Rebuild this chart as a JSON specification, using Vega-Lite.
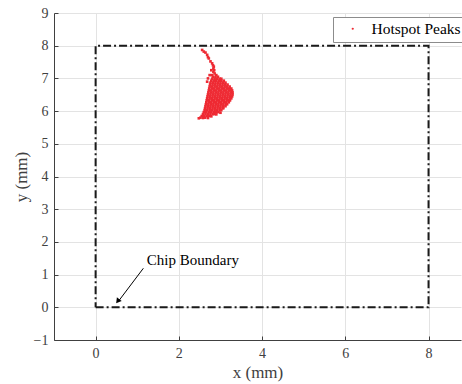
{
  "$schema": "https://vega.github.io/schema/vega-lite/v6.json",
  "width": 407,
  "height": 327,
  "autosize": "none",
  "padding": {"left": 54, "top": 13, "right": 1, "bottom": 44},
  "config": {
    "view": {"stroke": null},
    "font": "Liberation Serif",
    "axis": {
      "gridColor": "#e3e3e3",
      "gridWidth": 1,
      "domainColor": "#404040",
      "tickColor": "#404040",
      "labelColor": "#404040",
      "titleColor": "#404040",
      "labelFont": "Liberation Serif",
      "titleFont": "Liberation Serif",
      "labelFontSize": 14,
      "titleFontSize": 17,
      "titleFontWeight": "normal",
      "tickSize": -4,
      "labelPadding": 10
    }
  },
  "encoding": {
    "x": {
      "field": "x", "type": "quantitative",
      "scale": {"domain": [-1, 8.78], "nice": false, "zero": false},
      "axis": {"values": [0, 2, 4, 6, 8], "title": "x (mm)", "grid": true, "titlePadding": 4}
    },
    "y": {
      "field": "y", "type": "quantitative",
      "scale": {"domain": [-1, 9], "nice": false, "zero": false},
      "axis": {"values": [-1, 0, 1, 2, 3, 4, 5, 6, 7, 8, 9], "title": "y (mm)", "grid": true, "titlePadding": 3}
    }
  },
  "layer": [
    {
      "data": {"values": [
        {"x": 0, "y": 0, "o": 0}, {"x": 8, "y": 0, "o": 1}, {"x": 8, "y": 8, "o": 2},
        {"x": 0, "y": 8, "o": 3}, {"x": 0, "y": 0, "o": 4}
      ]},
      "mark": {"type": "line", "color": "#1a1a1a", "strokeWidth": 2, "strokeDash": [8, 3, 2, 3]},
      "encoding": {"order": {"field": "o", "type": "quantitative"}}
    },
    {
      "data": {"values": [
        {"x":2.56,"y":7.87},{"x":2.6,"y":7.82},{"x":2.64,"y":7.79},{"x":2.68,"y":7.72},{"x":2.7,"y":7.65},{"x":2.72,"y":7.61},{"x":2.76,"y":7.52},{"x":2.8,"y":7.46},{"x":2.82,"y":7.4},{"x":2.84,"y":7.36},{"x":2.83,"y":7.3},{"x":2.85,"y":7.25},{"x":2.83,"y":7.2},{"x":2.86,"y":7.15},{"x":2.8,"y":7.1},{"x":2.9,"y":7.1},{"x":2.78,"y":7.25},
        {"x":2.82,"y":7.05},{"x":2.88,"y":7.05},{"x":2.94,"y":7.05},
        {"x":2.8,"y":6.99},{"x":2.86,"y":6.99},{"x":2.92,"y":6.99},{"x":2.98,"y":6.99},{"x":3.02,"y":6.99},
        {"x":2.78,"y":6.93},{"x":2.84,"y":6.93},{"x":2.9,"y":6.93},{"x":2.96,"y":6.93},{"x":3.02,"y":6.93},{"x":3.08,"y":6.93},
        {"x":2.76,"y":6.87},{"x":2.82,"y":6.87},{"x":2.88,"y":6.87},{"x":2.94,"y":6.87},{"x":3.0,"y":6.87},{"x":3.06,"y":6.87},{"x":3.12,"y":6.87},
        {"x":2.75,"y":6.81},{"x":2.81,"y":6.81},{"x":2.87,"y":6.81},{"x":2.93,"y":6.81},{"x":2.99,"y":6.81},{"x":3.05,"y":6.81},{"x":3.11,"y":6.81},{"x":3.17,"y":6.81},
        {"x":2.74,"y":6.75},{"x":2.8,"y":6.75},{"x":2.86,"y":6.75},{"x":2.92,"y":6.75},{"x":2.98,"y":6.75},{"x":3.04,"y":6.75},{"x":3.1,"y":6.75},{"x":3.16,"y":6.75},{"x":3.22,"y":6.75},
        {"x":2.73,"y":6.69},{"x":2.79,"y":6.69},{"x":2.85,"y":6.69},{"x":2.91,"y":6.69},{"x":2.97,"y":6.69},{"x":3.03,"y":6.69},{"x":3.09,"y":6.69},{"x":3.15,"y":6.69},{"x":3.21,"y":6.69},{"x":3.26,"y":6.69},
        {"x":2.72,"y":6.63},{"x":2.78,"y":6.63},{"x":2.84,"y":6.63},{"x":2.9,"y":6.63},{"x":2.96,"y":6.63},{"x":3.02,"y":6.63},{"x":3.08,"y":6.63},{"x":3.14,"y":6.63},{"x":3.2,"y":6.63},{"x":3.26,"y":6.63},{"x":3.28,"y":6.63},
        {"x":2.71,"y":6.57},{"x":2.77,"y":6.57},{"x":2.83,"y":6.57},{"x":2.89,"y":6.57},{"x":2.95,"y":6.57},{"x":3.01,"y":6.57},{"x":3.07,"y":6.57},{"x":3.13,"y":6.57},{"x":3.19,"y":6.57},{"x":3.25,"y":6.57},{"x":3.29,"y":6.57},
        {"x":2.7,"y":6.51},{"x":2.76,"y":6.51},{"x":2.82,"y":6.51},{"x":2.88,"y":6.51},{"x":2.94,"y":6.51},{"x":3.0,"y":6.51},{"x":3.06,"y":6.51},{"x":3.12,"y":6.51},{"x":3.18,"y":6.51},{"x":3.24,"y":6.51},{"x":3.29,"y":6.51},
        {"x":2.69,"y":6.45},{"x":2.75,"y":6.45},{"x":2.81,"y":6.45},{"x":2.87,"y":6.45},{"x":2.93,"y":6.45},{"x":2.99,"y":6.45},{"x":3.05,"y":6.45},{"x":3.11,"y":6.45},{"x":3.17,"y":6.45},{"x":3.23,"y":6.45},{"x":3.28,"y":6.45},
        {"x":2.68,"y":6.39},{"x":2.74,"y":6.39},{"x":2.8,"y":6.39},{"x":2.86,"y":6.39},{"x":2.92,"y":6.39},{"x":2.98,"y":6.39},{"x":3.04,"y":6.39},{"x":3.1,"y":6.39},{"x":3.16,"y":6.39},{"x":3.22,"y":6.39},{"x":3.26,"y":6.39},
        {"x":2.67,"y":6.33},{"x":2.73,"y":6.33},{"x":2.79,"y":6.33},{"x":2.85,"y":6.33},{"x":2.91,"y":6.33},{"x":2.97,"y":6.33},{"x":3.03,"y":6.33},{"x":3.09,"y":6.33},{"x":3.15,"y":6.33},{"x":3.21,"y":6.33},{"x":3.23,"y":6.33},
        {"x":2.66,"y":6.27},{"x":2.72,"y":6.27},{"x":2.78,"y":6.27},{"x":2.84,"y":6.27},{"x":2.9,"y":6.27},{"x":2.96,"y":6.27},{"x":3.02,"y":6.27},{"x":3.08,"y":6.27},{"x":3.14,"y":6.27},{"x":3.2,"y":6.27},
        {"x":2.65,"y":6.21},{"x":2.71,"y":6.21},{"x":2.77,"y":6.21},{"x":2.83,"y":6.21},{"x":2.89,"y":6.21},{"x":2.95,"y":6.21},{"x":3.01,"y":6.21},{"x":3.07,"y":6.21},{"x":3.13,"y":6.21},{"x":3.16,"y":6.21},
        {"x":2.64,"y":6.15},{"x":2.7,"y":6.15},{"x":2.76,"y":6.15},{"x":2.82,"y":6.15},{"x":2.88,"y":6.15},{"x":2.94,"y":6.15},{"x":3.0,"y":6.15},{"x":3.06,"y":6.15},{"x":3.12,"y":6.15},
        {"x":2.63,"y":6.09},{"x":2.69,"y":6.09},{"x":2.75,"y":6.09},{"x":2.81,"y":6.09},{"x":2.87,"y":6.09},{"x":2.93,"y":6.09},{"x":2.99,"y":6.09},{"x":3.05,"y":6.09},{"x":3.07,"y":6.09},
        {"x":2.62,"y":6.03},{"x":2.68,"y":6.03},{"x":2.74,"y":6.03},{"x":2.8,"y":6.03},{"x":2.86,"y":6.03},{"x":2.92,"y":6.03},{"x":2.98,"y":6.03},{"x":3.02,"y":6.03},
        {"x":2.6,"y":5.97},{"x":2.66,"y":5.97},{"x":2.72,"y":5.97},{"x":2.78,"y":5.97},{"x":2.84,"y":5.97},{"x":2.9,"y":5.97},{"x":2.95,"y":5.97},
        {"x":2.58,"y":5.91},{"x":2.64,"y":5.91},{"x":2.7,"y":5.91},{"x":2.76,"y":5.91},{"x":2.82,"y":5.91},{"x":2.85,"y":5.91},
        {"x":2.55,"y":5.85},{"x":2.61,"y":5.85},{"x":2.67,"y":5.85},{"x":2.72,"y":5.85},
        {"x":2.48,"y":5.78},{"x":2.52,"y":5.8},{"x":2.58,"y":5.79},{"x":2.63,"y":5.8},{"x":2.7,"y":5.79},{"x":2.78,"y":5.84},{"x":2.9,"y":5.9},{"x":3.0,"y":5.95},{"x":2.68,"y":6.9},{"x":2.7,"y":7.0},{"x":2.74,"y":7.1}
      ]},
      "transform": [{"calculate": "'Hotspot Peaks'", "as": "s"}],
      "mark": {"type": "point", "shape": "square", "filled": true, "size": 7, "opacity": 1},
      "encoding": {
        "color": {
          "field": "s", "type": "nominal",
          "scale": {"range": ["#ee2a33"]},
          "legend": {
            "title": null, "orient": "none", "legendX": 279, "legendY": 4,
            "strokeColor": "#8c8c8c", "fillColor": "white", "padding": 4,
            "labelFont": "Liberation Serif", "labelFontSize": 15.5, "labelColor": "#000000",
            "symbolType": "circle", "symbolSize": 5, "symbolOffset": 8, "labelOffset": 11
          }
        }
      }
    },
    {
      "data": {"values": [{"x": 1.147, "y": 1.193, "x2": 0.54, "y2": 0.17}]},
      "mark": {"type": "rule", "color": "#000000", "strokeWidth": 1},
      "encoding": {"x2": {"field": "x2"}, "y2": {"field": "y2"}}
    },
    {
      "data": {"values": [{"x": 0.531, "y": 0.187}]},
      "mark": {"type": "point", "shape": "triangle-up", "filled": true, "color": "#000000", "size": 36, "angle": 217, "opacity": 1},
      "encoding": {}
    },
    {
      "data": {"values": [{"x": 1.23, "y": 1.29, "t": "Chip Boundary"}]},
      "mark": {"type": "text", "align": "left", "baseline": "alphabetic", "font": "Liberation Serif", "fontSize": 15, "color": "#000000"},
      "encoding": {"text": {"field": "t"}}
    }
  ]
}
